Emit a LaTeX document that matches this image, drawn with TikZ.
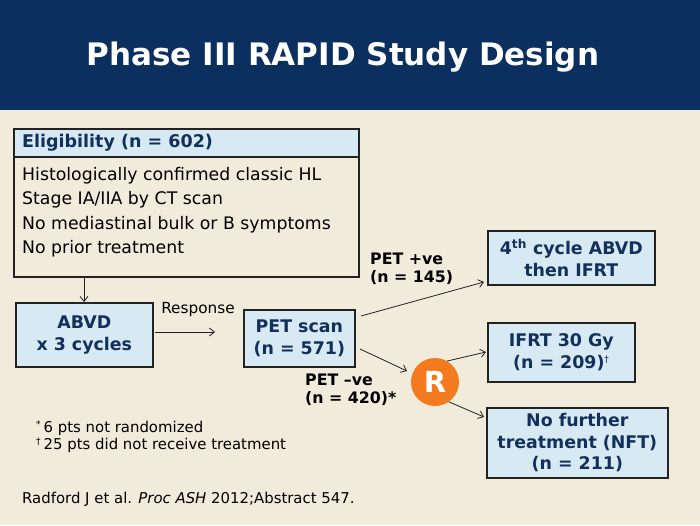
\documentclass[tikz,border=0pt]{standalone}
\usepackage{fontspec}
\setmainfont{DejaVu Sans}
\usetikzlibrary{arrows.meta}
\definecolor{navy}{HTML}{0B2F5E}
\definecolor{bgc}{HTML}{F1EBDB}
\definecolor{boxfill}{HTML}{D7E9F3}
\definecolor{boxtext}{HTML}{13305C}
\definecolor{rorange}{HTML}{F47A20}
\definecolor{edge}{HTML}{222222}
\tikzset{
  x=1pt,y=-1pt,
  bluebox/.style={draw=edge,line width=1.6pt,fill=boxfill,text=boxtext,font=\fontsize{17.4}{21.5}\selectfont\bfseries,align=center,inner sep=0pt},
  conn/.style={draw=edge,line width=0.8pt,-{Straight Barb[length=5pt,width=8pt]}},
  lbl/.style={font=\fontsize{15.8}{18}\selectfont\bfseries,align=left,inner sep=0pt,anchor=west},
  bodytxt/.style={font=\fontsize{17.3}{20}\selectfont,inner sep=0pt,anchor=west},
  smalltxt/.style={font=\fontsize{14.9}{17}\selectfont,inner sep=0pt,anchor=west},
}
\begin{document}
\begin{tikzpicture}
\useasboundingbox (0,0) rectangle (700,525);
\fill[bgc] (0,0) rectangle (700,525);
\fill[navy] (0,0) rectangle (700,110);
\node[text=white,font=\fontsize{31}{35}\selectfont\bfseries] (title) at (343,57) {Phase III RAPID Study Design};
% eligibility
\fill[boxfill] (13,128) rectangle (358,157);
\draw[edge,line width=1.2pt] (13,157) -- (358,157);
\node[draw=edge,line width=1.6pt,minimum width=345,minimum height=148,anchor=north west,inner sep=0pt] (elig) at (13,128) {};
\node[anchor=west,inner sep=0pt,text=boxtext,font=\fontsize{17.5}{20}\selectfont\bfseries] (eligt) at (22,143) {Eligibility (n = 602)};
\node[bodytxt] (l1) at (22,176) {Histologically confirmed classic HL};
\node[bodytxt] (l2) at (22,200) {Stage IA/IIA by CT scan};
\node[bodytxt] (l3) at (22,225) {No mediastinal bulk or B symptoms};
\node[bodytxt] (l4) at (22,249) {No prior treatment};
% boxes
\node[bluebox,minimum width=137,minimum height=64,anchor=north west] (abvd) at (15,302) {ABVD\\x 3 cycles};
\node[bluebox,minimum width=111,minimum height=57,anchor=north west] (pet) at (243,309) {PET scan\\(n = 571)};
\node[bluebox,minimum width=167,minimum height=54,anchor=north west] (fourth) at (487,230) {4\textsuperscript{th} cycle ABVD\\then IFRT};
\node[bluebox,minimum width=147,minimum height=59,anchor=north west] (ifrt) at (487,322) {IFRT 30 Gy\\(n = 209)\textsuperscript{\fontsize{9}{9}\selectfont\mdseries†}};
\node[bluebox,minimum width=181,minimum height=70,anchor=north west] (nft) at (486,407) {No further\\treatment (NFT)\\(n = 211)};
\node[circle,fill=rorange,minimum size=48,inner sep=0pt,text=white,font=\fontsize{29}{29}\selectfont\bfseries] (r) at (435,382) {R};
% connectors
\draw[conn] (84,276) -- (abvd.north -| 84,0);
\draw[conn] (155,332) -- (215,332);
\node[font=\fontsize{15.3}{17}\selectfont,inner sep=0pt] (resp) at (198,310) {Response};
\draw[conn] (361,316) -- (484,282);
\draw[conn] (360,349) -- (407,371);
\draw[conn] (r.60) -- (486,352);
\draw[conn] (r.-55) -- (484,417);
\node[lbl] (pos) at (370,269) {PET +ve\\(n = 145)};
\node[lbl] (neg) at (305,390) {PET –ve\\(n = 420)*};
% footnotes
\node[smalltxt] (f1) at (36,428) {\textsuperscript{\fontsize{9}{9}\selectfont *}\,6 pts not randomized};
\node[smalltxt] (f2) at (36,445) {\textsuperscript{\fontsize{9}{9}\selectfont †}\,25 pts did not receive treatment};
\node[smalltxt] (cite) at (22,499) {Radford J et al. \textit{Proc ASH} 2012;Abstract 547.};
\end{tikzpicture}
\end{document}
